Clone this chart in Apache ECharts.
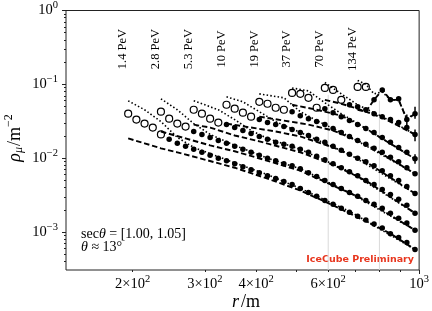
<!DOCTYPE html>
<html><head><meta charset="utf-8">
<script src="https://cdn.jsdelivr.net/npm/echarts@6/dist/echarts.min.js"></script>
<style>html,body{margin:0;padding:0;background:#fff}#c{width:432px;height:311px}</style>
</head><body><div id="c"></div>
<script>
// lateral distance grid (m)
const rGrid = [195.0,204.2,213.8,223.9,234.4,245.5,257.0,269.2,281.8,295.1,309.0,323.6,338.8,354.8,371.5,389.0,407.4,426.6,446.7,467.7,489.8,512.9,537.0,562.3,588.8,616.6,645.7,676.1,707.9,741.3,776.2,812.8,851.1,891.3,933.3,977.2];
const binLabels = ['1.4 PeV','2.8 PeV','5.3 PeV','10 PeV','19 PeV','37 PeV','70 PeV','134 PeV'];
const binStart = [0,4,8,12,16,20,24,28];
const openCount = [5,4,4,4,4,4,3,2];
// muon densities (m^-2); first openCount values are open markers
const rho_1p4 = [0.0401,0.0333,0.0294,0.0260,0.0210,0.0180,0.0159,0.0145,0.0132,0.0120,0.0110,0.0100,0.00922,0.00840,0.00766,0.00698,0.00637,0.00580,0.00529,0.00482,0.00440,0.00389,0.00343,0.00304,0.00268,0.00237,0.00210,0.00185,0.00164,0.00145,0.00128,0.00113,0.000951,0.000840,0.000720,0.000580];
const rho_2p8 = [0.0426,0.0343,0.0294,0.0268,0.0230,0.0210,0.0191,0.0174,0.0159,0.0145,0.0132,0.0120,0.0110,0.0100,0.00922,0.00840,0.00790,0.00720,0.00637,0.00563,0.00497,0.00440,0.00389,0.00343,0.00304,0.00268,0.00237,0.00210,0.00180,0.00154,0.00132,0.00106];
const rho_5p3 = [0.0453,0.0401,0.0343,0.0304,0.0285,0.0260,0.0237,0.0216,0.0197,0.0180,0.0164,0.0154,0.0145,0.0132,0.0120,0.0106,0.00951,0.00840,0.00743,0.00657,0.00580,0.00497,0.00440,0.00377,0.00323,0.00277,0.00230,0.00180];
const rho_10 = [0.0529,0.0468,0.0413,0.0365,0.0333,0.0304,0.0285,0.0268,0.0245,0.0223,0.0203,0.0180,0.0164,0.0145,0.0128,0.0113,0.0100,0.00894,0.00790,0.00677,0.00580,0.00497,0.00413,0.00333];
const rho_19 = [0.0580,0.0546,0.0482,0.0453,0.0426,0.0377,0.0343,0.0313,0.0285,0.0252,0.0223,0.0197,0.0174,0.0154,0.0136,0.0120,0.0103,0.00894,0.00743,0.00617];
const rho_37 = [0.0766,0.0743,0.0657,0.0482,0.0468,0.0413,0.0365,0.0323,0.0285,0.0252,0.0223,0.0191,0.0164,0.0140,0.0120,0.00980];
const rho_70 = [0.0894,0.0840,0.0617,0.0529,0.0497,0.0453,0.0401,0.0365,0.0333,0.0304,0.0260,0.0210];
const rho_134 = [0.0922,0.0922,0.0617,0.0840,0.0617,0.0637,0.0333,0.0401];
// dashed model curves [r, rho]
const dash_1p4 = [[195.0,0.0185],[213.8,0.0159],[234.4,0.0136],[257.0,0.0120],[295.1,0.00980],[354.8,0.00743],[426.6,0.00529],[512.9,0.00365],[616.6,0.00230],[741.3,0.00140],[851.1,0.000951],[977.2,0.000580]];
const dash_2p8 = [[234.4,0.0230],[269.2,0.0185],[309.0,0.0149],[354.8,0.0124],[426.6,0.00922],[512.9,0.00677],[616.6,0.00426],[741.3,0.00268],[977.2,0.00106]];
const dash_5p3 = [[281.8,0.0285],[309.0,0.0260],[354.8,0.0203],[407.4,0.0169],[512.9,0.0120],[616.6,0.00815],[741.3,0.00497],[977.2,0.00180]];
const dash_10 = [[338.8,0.0294],[389.0,0.0260],[446.7,0.0230],[512.9,0.0197],[616.6,0.0140],[741.3,0.00894],[977.2,0.00333]];
const dash_19 = [[407.4,0.0365],[467.7,0.0323],[537.0,0.0285],[616.6,0.0237],[741.3,0.0154],[977.2,0.00617]];
const dash_37 = [[489.8,0.0529],[562.3,0.0453],[645.7,0.0377],[741.3,0.0252],[977.2,0.00980]];
const dash_70 = [[588.8,0.0617],[645.7,0.0546],[707.9,0.0468],[812.8,0.0354],[977.2,0.0210]];
const dash_134 = [[707.9,0.0453],[741.3,0.0426],[776.2,0.0617],[812.8,0.0840],[851.1,0.0617],[891.3,0.0617],[933.3,0.0333],[977.2,0.0401]];
// dotted model curves [r, rho]
const dot_1p4 = [[195.0,0.0598],[213.8,0.0453],[234.4,0.0313],[257.0,0.0191],[281.8,0.0140],[338.8,0.00951],[426.6,0.00598],[512.9,0.00389],[676.1,0.00191],[977.2,0.000580]];
const dot_2p8 = [[234.4,0.0637],[257.0,0.0453],[281.8,0.0294],[309.0,0.0210],[354.8,0.0149],[426.6,0.0100],[512.9,0.00720],[676.1,0.00343],[977.2,0.00106]];
const dot_5p3 = [[281.8,0.0598],[323.6,0.0453],[354.8,0.0333],[389.0,0.0237],[426.6,0.0185],[512.9,0.0132],[676.1,0.00657],[977.2,0.00180]];
const dot_10 = [[338.8,0.0677],[371.5,0.0580],[407.4,0.0426],[446.7,0.0313],[512.9,0.0223],[676.1,0.0113],[977.2,0.00333]];
const dot_19 = [[407.4,0.0743],[467.7,0.0657],[512.9,0.0426],[562.3,0.0323],[676.1,0.0197],[977.2,0.00617]];
const dot_37 = [[489.8,0.0894],[537.0,0.0815],[588.8,0.0563],[645.7,0.0401],[741.3,0.0252],[977.2,0.00980]];
const dot_70 = [[588.8,0.106],[645.7,0.0743],[707.9,0.0529],[812.8,0.0365],[977.2,0.0210]];
const dot_134 = [[707.9,0.113],[741.3,0.100],[776.2,0.0743],[812.8,0.0790],[851.1,0.0617],[891.3,0.0617],[933.3,0.0343],[977.2,0.0401]];
// error bars [r, low, high]
const errBars = [[933.3,0.0268,0.0389],[977.2,0.0343,0.0497],[977.2,0.0169,0.0245],[977.2,0.0084,0.0113]];
// reference vertical lines
const refLinesR = [600, 800];
const refLinesTop = [0.072, 0.060];
// axis ticks
const xMin = 137.5, xMax = 1000, yMin = 3.06e-4, yMax = 1;
const xLabelTicks = [200,300,400,600,1000];
const xMajorTicks = [1000];
const xMinorTicks = [200,300,400,500,600,700,800,900];
const yMajorTicks = [0.001,0.01,0.1,1];
const yMinorTicks = [0.0004,0.0005,0.0006,0.0007,0.0008,0.0009,0.002,0.003,0.004,0.005,0.006,0.007,0.008,0.009,0.02,0.03,0.04,0.05,0.06,0.07,0.08,0.09,0.2,0.3,0.4,0.5,0.6,0.7,0.8,0.9];

const rhoBins = [rho_1p4,rho_2p8,rho_5p3,rho_10,rho_19,rho_37,rho_70,rho_134];
const dashBins = [dash_1p4,dash_2p8,dash_5p3,dash_10,dash_19,dash_37,dash_70,dash_134];
const dotBins = [dot_1p4,dot_2p8,dot_5p3,dot_10,dot_19,dot_37,dot_70,dot_134];

const SERIF = 'Liberation Serif';
const series = [];
refLinesR.forEach((r, i) => {
  series.push({type:'line', data:[[r, refLinesTop[i]],[r, yMin]], symbol:'none', silent:true,
    lineStyle:{color:'#d9d9d9', width:1}, z:1});
});
rhoBins.forEach((rho, i) => {
  const s = binStart[i], oc = openCount[i];
  series.push({type:'line', data:dashBins[i], symbol:'none', lineStyle:{color:'#000', width:1.9, type:[5.5,2.8]}, z:4});
  series.push({type:'line', data:dotBins[i], symbol:'none', lineStyle:{color:'#000', width:1.6, type:[1.5,2.2]}, z:4});
  const openData = rho.slice(0, oc).map((v, j) => [rGrid[s + j], v]);
  const fillData = rho.slice(oc).map((v, j) => [rGrid[s + oc + j], v]);
  series.push({type:'scatter', data:openData, symbol:'circle', symbolSize:7,
    itemStyle:{color:'rgba(255,255,255,0)', borderColor:'#000', borderWidth:1.2, opacity:1}, z:3});
  series.push({type:'scatter', data:fillData, symbol:'circle', symbolSize:5.5,
    itemStyle:{color:'#000', opacity:1}, z:3});
});
series.push({type:'custom', data:errBars, encode:{x:0, y:[1,2]}, z:5,
  renderItem:(params, api) => {
    const p1 = api.coord([api.value(0), api.value(1)]);
    const p2 = api.coord([api.value(0), api.value(2)]);
    return {type:'line', shape:{x1:p1[0], y1:p1[1], x2:p2[0], y2:p2[1]}, style:{stroke:'#000', lineWidth:1.5}};
  }});

const supRich = {
  b:{fontFamily:SERIF, fontSize:14.5, color:'#000'},
  s:{fontFamily:SERIF, fontSize:10.5, color:'#000', padding:[0,0,10,0]}
};
const chart = echarts.init(document.getElementById('c'), null, {renderer:'canvas'});
chart.setOption({
  animation:false,
  grid:{left:66, right:9, top:7, bottom:41, show:true, borderColor:'#222', borderWidth:1, containLabel:false},
  xAxis:[
    {type:'log', logBase:10, min:xMin, max:xMax, position:'bottom',
      axisLine:{show:false}, splitLine:{show:false},
      axisTick:{show:true, customValues:xMajorTicks, length:4, lineStyle:{color:'#222'}},
      axisLabel:{customValues:xLabelTicks, margin:4, color:'#000', rich:supRich,
        formatter:(v) => { v = Math.round(v); if (v === 1000) return '{b|10}{s|3}'; return '{b|' + Math.round(v/100) + '×10}{s|2}'; }}},
    {type:'log', logBase:10, min:xMin, max:xMax, position:'bottom',
      axisLine:{show:false}, splitLine:{show:false}, axisLabel:{show:false},
      axisTick:{show:true, customValues:xMinorTicks, length:2, lineStyle:{color:'#222'}}}
  ],
  yAxis:[
    {type:'log', logBase:10, min:yMin, max:yMax, position:'left',
      axisLine:{show:false}, splitLine:{show:false},
      axisTick:{show:true, customValues:yMajorTicks, length:4, lineStyle:{color:'#222'}},
      axisLabel:{customValues:yMajorTicks, margin:8, color:'#000', rich:supRich,
        formatter:(v) => { const e = Math.round(Math.log10(v)); return '{b|10}{s|' + (e < 0 ? '−' + (-e) : e) + '}'; }}},
    {type:'log', logBase:10, min:yMin, max:yMax, position:'left',
      axisLine:{show:false}, splitLine:{show:false}, axisLabel:{show:false},
      axisTick:{show:true, customValues:yMinorTicks, length:2, lineStyle:{color:'#222'}}}
  ],
  series: series
});

const graphics = [];
binLabels.forEach((t, i) => {
  const px = chart.convertToPixel({xAxisIndex:0}, rGrid[binStart[i]]) - 5;
  graphics.push({type:'text', x:px, y:49, rotation:Math.PI/2,
    style:{text:t, fontFamily:SERIF, fontSize:12.5, fill:'#000', align:'center', verticalAlign:'middle'}});
});
graphics.push({type:'text', x:81, y:234, style:{text:'{n|sec}{i|θ}{n| = [1.00, 1.05]}', align:'left', verticalAlign:'middle',
  rich:{n:{fontFamily:SERIF, fontSize:14, fill:'#000'}, i:{fontFamily:SERIF, fontStyle:'italic', fontSize:14, fill:'#000'}}}});
graphics.push({type:'text', x:81, y:247, style:{text:'{i|θ}{n| ≈ 13°}', align:'left', verticalAlign:'middle',
  rich:{n:{fontFamily:SERIF, fontSize:14, fill:'#000'}, i:{fontFamily:SERIF, fontStyle:'italic', fontSize:14, fill:'#000'}}}});
graphics.push({type:'text', x:414, y:260, style:{text:'IceCube Preliminary', fontFamily:'DejaVu Sans', fontWeight:'bold', fontSize:9.5,
  fill:'#e8361e', align:'right', verticalAlign:'middle'}});
graphics.push({type:'text', x:246, y:302, style:{text:'{i|r}{n|/m}', align:'center', verticalAlign:'middle',
  rich:{n:{fontFamily:SERIF, fontSize:18, fill:'#000'}, i:{fontFamily:SERIF, fontStyle:'italic', fontSize:18, fill:'#000', padding:[0,2,0,0]}}}});
graphics.push({type:'text', x:15, y:138, rotation:Math.PI/2, style:{text:'{i|ρ}{u|μ}{n|/m}{s|−2}', align:'center', verticalAlign:'middle',
  rich:{n:{fontFamily:SERIF, fontSize:18, fill:'#000'}, i:{fontFamily:SERIF, fontStyle:'italic', fontSize:18, fill:'#000'},
    u:{fontFamily:SERIF, fontStyle:'italic', fontSize:12, fill:'#000', padding:[8,1,0,0]},
    s:{fontFamily:SERIF, fontSize:12, fill:'#000', padding:[0,0,12,0]}}}});
chart.setOption({graphic:graphics});
</script></body></html>
